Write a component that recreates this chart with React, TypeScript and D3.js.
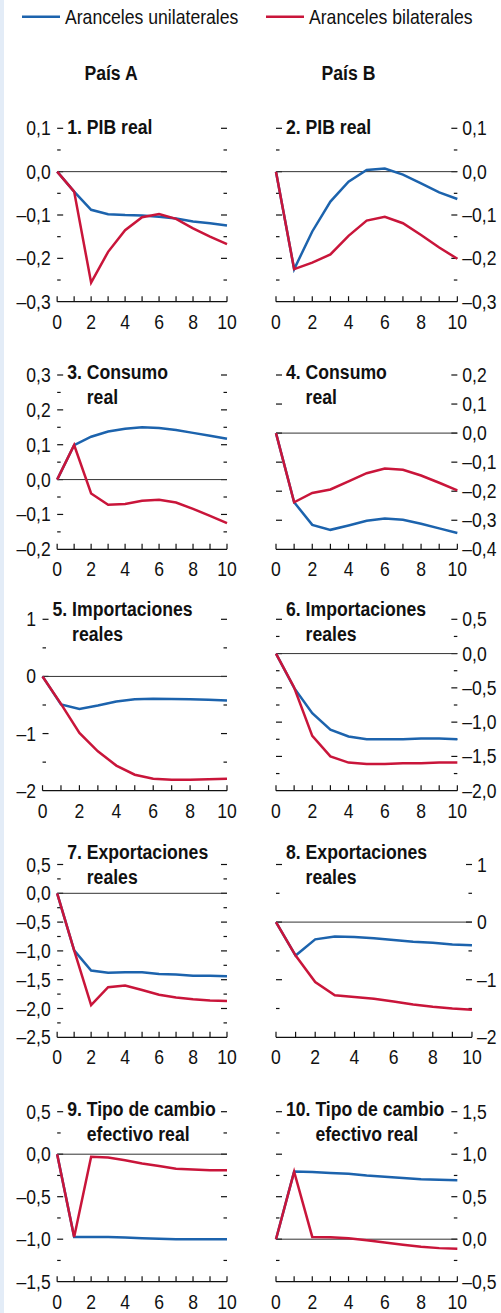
import React, { useEffect, useRef } from "react";
import * as d3 from "d3";

// ---------- data ----------
const periods = [0, 1, 2, 3, 4, 5, 6, 7, 8, 9, 10];
const xTickLabels = [0, 2, 4, 6, 8, 10];
const seriesNames = ["Aranceles unilaterales", "Aranceles bilaterales"];
const countryNames = ["País A", "País B"];

const panelNumbers = ["1.", "2.", "3.", "4.", "5.", "6.", "7.", "8.", "9.", "10."];
const titleLine1 = ["PIB real", "PIB real", "Consumo", "Consumo", "Importaciones", "Importaciones", "Exportaciones", "Exportaciones", "Tipo de cambio", "Tipo de cambio"];
const titleLine2 = ["", "", "real", "real", "reales", "reales", "reales", "reales", "efectivo real", "efectivo real"];

const pibA_uni = [0, -0.046, -0.088, -0.098, -0.1, -0.101, -0.104, -0.108, -0.115, -0.119, -0.124];
const pibA_bi = [0, -0.046, -0.256, -0.185, -0.135, -0.105, -0.098, -0.109, -0.131, -0.15, -0.167];
const pibB_uni = [0, -0.225, -0.138, -0.069, -0.023, 0.004, 0.007, -0.007, -0.027, -0.048, -0.063];
const pibB_bi = [0, -0.225, -0.21, -0.191, -0.148, -0.113, -0.104, -0.119, -0.146, -0.175, -0.201];
const consA_uni = [0, 0.099, 0.123, 0.138, 0.146, 0.15, 0.148, 0.142, 0.134, 0.126, 0.117];
const consA_bi = [0, 0.099, -0.04, -0.072, -0.07, -0.061, -0.058, -0.066, -0.084, -0.104, -0.125];
const consB_uni = [0, -0.238, -0.316, -0.333, -0.318, -0.302, -0.294, -0.298, -0.312, -0.328, -0.344];
const consB_bi = [0, -0.238, -0.206, -0.194, -0.166, -0.138, -0.122, -0.126, -0.146, -0.171, -0.197];
const impA_uni = [0, -0.49, -0.57, -0.51, -0.44, -0.4, -0.39, -0.395, -0.4, -0.407, -0.42];
const impA_bi = [0, -0.48, -0.99, -1.31, -1.56, -1.72, -1.79, -1.81, -1.81, -1.8, -1.79];
const impB_uni = [0, -0.5, -0.87, -1.11, -1.21, -1.25, -1.25, -1.25, -1.24, -1.24, -1.25];
const impB_bi = [0, -0.495, -1.2, -1.5, -1.59, -1.61, -1.61, -1.6, -1.6, -1.59, -1.59];
const expA_uni = [0, -0.99, -1.34, -1.38, -1.37, -1.37, -1.4, -1.41, -1.43, -1.43, -1.44];
const expA_bi = [0, -0.99, -1.94, -1.63, -1.6, -1.68, -1.76, -1.81, -1.84, -1.86, -1.87];
const expB_uni = [0, -0.58, -0.3, -0.25, -0.26, -0.28, -0.31, -0.34, -0.36, -0.39, -0.4];
const expB_bi = [0, -0.58, -1.04, -1.27, -1.3, -1.33, -1.38, -1.43, -1.47, -1.5, -1.52];
const tcA_uni = [0, -0.973, -0.973, -0.973, -0.98, -0.988, -0.996, -1.0, -1.0, -1.0, -1.0];
const tcA_bi = [0, -0.973, -0.03, -0.04, -0.07, -0.11, -0.14, -0.17, -0.18, -0.19, -0.19];
const tcB_uni = [0, 0.795, 0.79, 0.78, 0.77, 0.75, 0.736, 0.72, 0.705, 0.7, 0.694];
const tcB_bi = [0, 0.795, 0.027, 0.023, 0.012, -0.012, -0.04, -0.066, -0.09, -0.105, -0.112];

const unilateral = [pibA_uni, pibB_uni, consA_uni, consB_uni, impA_uni, impB_uni, expA_uni, expB_uni, tcA_uni, tcB_uni];
const bilateral = [pibA_bi, pibB_bi, consA_bi, consB_bi, impA_bi, impB_bi, expA_bi, expB_bi, tcA_bi, tcB_bi];

const yMin = [-0.3, -0.3, -0.2, -0.4, -2, -2, -2.5, -2, -1.5, -0.5];
const yMax = [0.1, 0.1, 0.3, 0.2, 1, 0.5, 0.5, 1, 0.5, 1.5];
const yStep = [0.1, 0.1, 0.1, 0.1, 1, 0.5, 0.5, 1, 0.5, 0.5];
const yMinorTicks = [true, true, true, false, true, true, true, true, true, true];
const yDecimals = [1, 1, 1, 1, 0, 1, 1, 0, 1, 1];

// ---------- layout / style ----------
const W = 501;
const H = 1313;
const rowTop = [128.3, 375, 619.3, 864.5, 1111.7];
const rowBottom = [301.7, 549.3, 790.7, 1037.3, 1281.7];
const titleBase = [134, 379, 616.3, 859.3, 1116];
const BLUE = "#1c63ad";
const RED = "#c9153a";
const INK = "#111111";
const FONT = "'Liberation Sans', Arial, Helvetica, sans-serif";
const TXT_SIZE = 20.5;
const TXT_SX = 0.86;
const TICK_SIZE = 19.5;
const TICK_SX = 0.9;

function fmt(v: number, dec: number): string {
  const s = Math.abs(v).toFixed(dec).replace(".", ",");
  return v < -1e-9 ? "\u2013" + s : s;
}

export default function App() {
  const ref = useRef<SVGSVGElement | null>(null);

  useEffect(() => {
    const svg = d3.select(ref.current as SVGSVGElement);
    svg.selectAll("*").remove();

    const addText = (
      g: any,
      x: number,
      y: number,
      s: string,
      o: { size: number; sx: number; weight?: string; anchor?: string }
    ) =>
      g
        .append("text")
        .attr("transform", `translate(${x},${y}) scale(${o.sx},1)`)
        .attr("font-family", FONT)
        .attr("font-size", o.size)
        .attr("font-weight", o.weight || "normal")
        .attr("text-anchor", o.anchor || "start")
        .attr("fill", INK)
        .text(s);

    const measure = (s: string, size: number, sx: number, weight = "normal") => {
      const t = addText(svg, 0, -100, s, { size, sx, weight });
      const w = (t.node() as SVGTextElement).getComputedTextLength() * sx;
      t.remove();
      return w;
    };

    svg.append("rect").attr("x", 0).attr("y", 0).attr("width", W).attr("height", H).attr("fill", "#ffffff");
    svg.append("rect").attr("x", 0).attr("y", 0).attr("width", 4).attr("height", H).attr("fill", "#e3ecf7");

    // legend
    const leg = svg.append("g");
    const legendItems = [
      { name: seriesNames[0], color: BLUE, x: 22 },
      { name: seriesNames[1], color: RED, x: 266 },
    ];
    legendItems.forEach((it) => {
      leg.append("line").attr("x1", it.x).attr("x2", it.x + 38).attr("y1", 16.7).attr("y2", 16.7)
        .attr("stroke", it.color).attr("stroke-width", 2.6);
      addText(leg, it.x + 43, 23.5, it.name, { size: TXT_SIZE, sx: TXT_SX });
    });

    // column headers
    addText(svg, 111, 80, countryNames[0], { size: TXT_SIZE, sx: TXT_SX, weight: "bold", anchor: "middle" });
    addText(svg, 348.5, 80, countryNames[1], { size: TXT_SIZE, sx: TXT_SX, weight: "bold", anchor: "middle" });

    for (let i = 0; i < 10; i++) {
      const col = i % 2;
      const row = Math.floor(i / 2);
      const g = svg.append("g");
      const nMaj = Math.round((yMax[i] - yMin[i]) / yStep[i]);
      const majors = d3.range(nMaj + 1).map((k) => +(yMin[i] + k * yStep[i]).toFixed(4));
      const minors = yMinorTicks[i]
        ? d3.range(nMaj).map((k) => +(yMin[i] + (k + 0.5) * yStep[i]).toFixed(4))
        : [];
      const labels = majors.map((v) => fmt(v, yDecimals[i]));
      const maxW = d3.max(labels, (s) => measure(s, TICK_SIZE, TICK_SX)) as number;

      let left: number, right: number;
      if (col === 0) {
        left = 16.5 + maxW + 6.5;
        right = 227;
      } else {
        left = 276;
        right = 496.5 - maxW - 5;
      }
      const top = rowTop[row];
      const bottom = rowBottom[row];

      const x = d3.scaleLinear().domain([0, 10]).range([left, right]);
      const y = d3.scaleLinear().domain([yMin[i], yMax[i]]).range([bottom, top]);

      // y ticks (both sides, inward)
      majors.forEach((v) => {
        if (Math.abs(v - yMin[i]) < 1e-9) return;
        g.append("line").attr("x1", left).attr("x2", left + 6).attr("y1", y(v)).attr("y2", y(v))
          .attr("stroke", INK).attr("stroke-width", 1.2);
        g.append("line").attr("x1", right - 6).attr("x2", right).attr("y1", y(v)).attr("y2", y(v))
          .attr("stroke", INK).attr("stroke-width", 1.2);
      });
      minors.forEach((v) => {
        g.append("line").attr("x1", left).attr("x2", left + 3.5).attr("y1", y(v)).attr("y2", y(v))
          .attr("stroke", INK).attr("stroke-width", 1.2);
        g.append("line").attr("x1", right - 3.5).attr("x2", right).attr("y1", y(v)).attr("y2", y(v))
          .attr("stroke", INK).attr("stroke-width", 1.2);
      });

      // y labels
      majors.forEach((v, k) => {
        if (col === 0) addText(g, left - 6.5, y(v) + 7, labels[k], { size: TICK_SIZE, sx: TICK_SX, anchor: "end" });
        else addText(g, right + 5, y(v) + 7, labels[k], { size: TICK_SIZE, sx: TICK_SX, anchor: "start" });
      });

      // zero line
      g.append("line").attr("x1", left).attr("x2", right).attr("y1", y(0)).attr("y2", y(0))
        .attr("stroke", "#333").attr("stroke-width", 1);

      // x axis
      g.append("line").attr("x1", left).attr("x2", right).attr("y1", bottom).attr("y2", bottom)
        .attr("stroke", INK).attr("stroke-width", 1.3);
      periods.forEach((p) => {
        g.append("line").attr("x1", x(p)).attr("x2", x(p)).attr("y1", bottom).attr("y2", bottom - 5.5)
          .attr("stroke", INK).attr("stroke-width", 1.2);
      });
      xTickLabels.forEach((p) => {
        addText(g, x(p), bottom + 27, String(p), { size: TICK_SIZE, sx: TICK_SX, anchor: "middle" });
      });

      // lines
      const line = d3.line<number>().x((_, k) => x(periods[k])).y((d) => y(d));
      g.append("path").attr("d", line(unilateral[i]) as string).attr("fill", "none")
        .attr("stroke", BLUE).attr("stroke-width", 2.5);
      g.append("path").attr("d", line(bilateral[i]) as string).attr("fill", "none")
        .attr("stroke", RED).attr("stroke-width", 2.5);

      // title
      const tx = left + 10;
      const tb = titleBase[row];
      const numW = measure(panelNumbers[i], TXT_SIZE, TXT_SX, "bold");
      const spaceW = 0.278 * TXT_SIZE * TXT_SX;
      addText(g, tx, tb, panelNumbers[i], { size: TXT_SIZE, sx: TXT_SX, weight: "bold" });
      addText(g, tx + numW + spaceW, tb, titleLine1[i], { size: TXT_SIZE, sx: TXT_SX, weight: "bold" });
      if (titleLine2[i]) {
        addText(g, tx + numW + spaceW, tb + 24.5, titleLine2[i], { size: TXT_SIZE, sx: TXT_SX, weight: "bold" });
      }
    }
  }, []);

  return (
    <svg
      ref={ref}
      width={W}
      height={H}
      style={{ position: "absolute", left: 0, top: 0, display: "block" }}
    />
  );
}
